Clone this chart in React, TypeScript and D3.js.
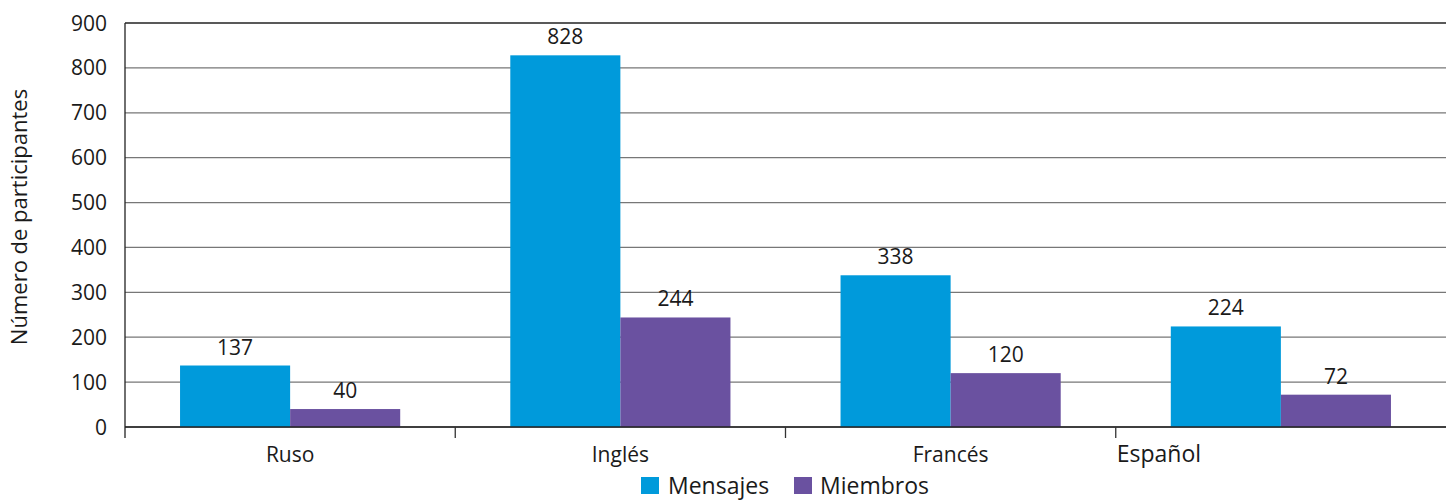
import React from "react";
import * as d3 from "d3";

const categories = ["Ruso", "Inglés", "Francés", "Español"];
const series = ["Mensajes", "Miembros"];
const mensajes = [137, 828, 338, 224];
const miembros = [40, 244, 120, 72];
const yTicks = [0, 100, 200, 300, 400, 500, 600, 700, 800, 900];
const colors = ["#009ADB", "#6A51A0"];

const W = 1446;
const H = 500;
const margin = { top: 23, right: 0, bottom: 73, left: 125 };
const font = "'Open Sans', 'Noto Sans', sans-serif";

export default function App() {
  const x = d3
    .scaleBand<string>()
    .domain(categories)
    .range([margin.left, W - margin.right]);
  const xSub = d3
    .scaleBand<string>()
    .domain(series)
    .range([0, x.bandwidth()])
    .paddingOuter(0.5);
  const y = d3
    .scaleLinear()
    .domain([0, 900])
    .range([H - margin.bottom, margin.top]);

  const values = [mensajes, miembros];
  const y0 = y(0);

  return (
    <svg
      width={W}
      height={H}
      style={{ position: "absolute", left: 0, top: 0, fontFamily: font }}
    >
      {yTicks.map((t) => (
        <g key={t}>
          <line
            x1={margin.left}
            x2={W}
            y1={y(t)}
            y2={y(t)}
            stroke={t === 900 ? "#222" : "#777"}
            strokeWidth={1.3}
          />
          <text
            x={margin.left - 18}
            y={y(t)}
            dy="0.36em"
            textAnchor="end"
            fontSize={21}
            fill="#1a1a1a"
          >
            {t}
          </text>
        </g>
      ))}

      {series.map((s, si) =>
        categories.map((c, ci) => {
          const v = values[si][ci];
          const bx = (x(c) as number) + (xSub(s) as number);
          return (
            <g key={s + c}>
              <rect
                x={bx}
                y={y(v)}
                width={xSub.bandwidth()}
                height={y0 - y(v)}
                fill={colors[si]}
              />
              <text
                x={bx + xSub.bandwidth() / 2}
                y={y(v) - 11}
                textAnchor="middle"
                fontSize={21}
                fill="#1a1a1a"
              >
                {v}
              </text>
            </g>
          );
        })
      )}

      <line x1={margin.left} x2={W} y1={y0} y2={y0} stroke="#222" strokeWidth={1.3} />
      <line
        x1={margin.left}
        x2={margin.left}
        y1={margin.top}
        y2={y0 + 11}
        stroke="#222"
        strokeWidth={1.3}
      />
      {categories.map((c, i) => (
        <line
          key={c}
          x1={(x(c) as number) + x.bandwidth()}
          x2={(x(c) as number) + x.bandwidth()}
          y1={y0}
          y2={y0 + 11}
          stroke="#333"
          strokeWidth={1.3}
          opacity={i === categories.length - 1 ? 0 : 1}
        />
      ))}
      {categories.map((c, i) =>
        i === categories.length - 1 ? (
          <text
            key={c}
            x={(x(c) as number) + 1}
            y={y0 + 35}
            fontSize={23}
            fill="#1a1a1a"
          >
            {c}
          </text>
        ) : (
          <text
            key={c}
            x={(x(c) as number) + x.bandwidth() / 2}
            y={y0 + 35}
            textAnchor="middle"
            fontSize={21}
            fill="#1a1a1a"
          >
            {c}
          </text>
        )
      )}

      <text
        transform={`translate(27, 217) rotate(-90)`}
        textAnchor="middle"
        fontSize={22}
        fill="#1a1a1a"
      >
        Número de participantes
      </text>

      <g>
        <rect x={641} y={477} width={18} height={17} fill={colors[0]} />
        <text x={668} y={494} fontSize={23} fill="#1a1a1a">
          {series[0]}
        </text>
        <rect x={794} y={477} width={18} height={17} fill={colors[1]} />
        <text x={820} y={494} fontSize={23} fill="#1a1a1a">
          {series[1]}
        </text>
      </g>
    </svg>
  );
}
